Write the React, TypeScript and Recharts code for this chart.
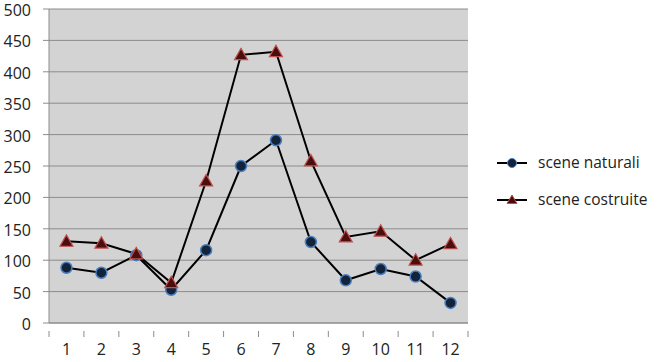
import React from "react";
import { LineChart, Line, XAxis, YAxis, CartesianGrid } from "recharts";

const categories = [1, 2, 3, 4, 5, 6, 7, 8, 9, 10, 11, 12];
const sceneNaturali = [88, 80, 108, 53, 116, 250, 291, 129, 68, 86, 74, 32];
const sceneCostruite = [130, 127, 110, 64, 226, 427, 432, 258, 137, 146, 100, 126];
const yTicks = [0, 50, 100, 150, 200, 250, 300, 350, 400, 450, 500];
const xTicks = [0.5, 1, 1.5, 2, 2.5, 3, 3.5, 4, 4.5, 5, 5.5, 6, 6.5, 7, 7.5, 8, 8.5, 9, 9.5, 10, 10.5, 11, 11.5, 12, 12.5];
const seriesNames = ["scene naturali", "scene costruite"];

const data = categories.map((c, i) => ({
  x: c,
  nat: sceneNaturali[i],
  cos: sceneCostruite[i],
}));

const FONT = "'Open Sans', 'Liberation Sans', sans-serif";

const XTick = (props: any) => {
  const { x, y, payload } = props;
  const v = payload.value;
  if (Number.isInteger(v)) {
    return (
      <text x={x} y={y + 24} textAnchor="middle" fontSize={16} fill="#222" fontFamily={FONT}>
        {v}
      </text>
    );
  }
  return <line x1={x} y1={y} x2={x} y2={y + 6} stroke="#8c8c8c" strokeWidth={1} />;
};

const YTick = (props: any) => {
  const { x, y, payload } = props;
  return (
    <text x={x} y={y + 7} textAnchor="end" fontSize={16} fill="#222" fontFamily={FONT}>
      {payload.value}
    </text>
  );
};

const Circle = (props: any) => {
  const { cx, cy } = props;
  return <circle cx={cx} cy={cy} r={5.5} fill="#13233a" stroke="#4a7fc0" strokeWidth={1.5} />;
};

const Tri = (props: any) => {
  const { cx, cy } = props;
  const s = 6.5;
  return (
    <polygon
      points={`${cx},${cy - s} ${cx - s},${cy + s * 0.75} ${cx + s},${cy + s * 0.75}`}
      fill="#4a0e0e"
      stroke="#c0504d"
      strokeWidth={1.2}
    />
  );
};

const LegendBox = () => (
  <svg width={170} height={80} style={{ position: "absolute", left: 495, top: 145 }}>
    {seriesNames.map((name, i) => {
      const y = 18 + i * 37;
      return (
        <g key={name}>
          <line x1={2} y1={y} x2={32} y2={y} stroke="#000" strokeWidth={2} />
          {i === 0 ? (
            <circle cx={17} cy={y} r={4.5} fill="#13233a" stroke="#4a7fc0" strokeWidth={1} />
          ) : (
            <polygon points={`17,${y - 5} 12,${y + 3.5} 22,${y + 3.5}`} fill="#4a0e0e" stroke="#c0504d" strokeWidth={1} />
          )}
          <text x={43} y={y + 5} fontSize={15.5} fill="#222" fontFamily={FONT}>
            {name}
          </text>
        </g>
      );
    })}
  </svg>
);

export default function App() {
  return (
    <div style={{ position: "absolute", left: 0, top: 0, width: 662, height: 362, background: "#fff" }}>
      <LineChart width={662} height={362} data={data} margin={{ top: 9, right: 194, bottom: 0, left: 0 }}>
        <CartesianGrid vertical={false} stroke="#8c8c8c" strokeWidth={1} fill="#d3d3d3" fillOpacity={1} />
        <XAxis
          dataKey="x"
          type="number"
          domain={[0.5, 12.5]}
          ticks={xTicks}
          interval={0}
          height={39}
          stroke="#8c8c8c"
          tickLine={false}
          tick={<XTick />}
        />
        <YAxis
          domain={[0, 500]}
          ticks={yTicks}
          width={49}
          stroke="#8c8c8c"
          tickSize={6}
          tickMargin={12}
          interval={0}
          tick={<YTick />}
        />
        <Line
          dataKey="nat"
          name={seriesNames[0]}
          stroke="#000"
          strokeWidth={2}
          dot={<Circle />}
          isAnimationActive={false}
        />
        <Line
          dataKey="cos"
          name={seriesNames[1]}
          stroke="#000"
          strokeWidth={2}
          dot={<Tri />}
          isAnimationActive={false}
        />
      </LineChart>
      <LegendBox />
    </div>
  );
}
